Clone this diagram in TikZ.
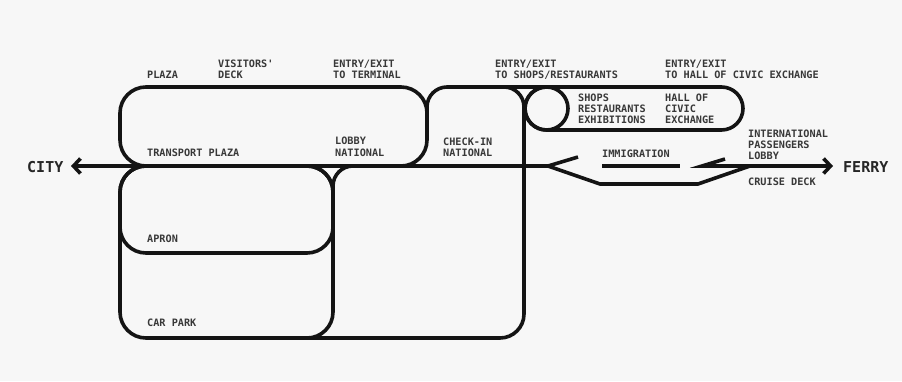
\documentclass[tikz,border=0pt]{standalone}
\usepackage{fontspec}
\newfontfamily\planfont{DejaVu Sans Mono}
\usetikzlibrary{arrows.meta}
\begin{document}
\begin{tikzpicture}[x=1pt,y=-1pt,
  >={Straight Barb[length=7pt,width=15pt]},
  wall/.style={line width=3.6pt, draw=black!92},
  lbl/.style={anchor=base west, inner sep=0pt, align=left,
    font=\planfont\bfseries\fontsize{10.2}{11.2}\selectfont, text=black!78},
  place/.style={anchor=base west, inner sep=0pt,
    font=\planfont\bfseries\fontsize{15}{15}\selectfont, text=black!85}]
\fill[black!3] (0,0) rectangle (902,381);
\useasboundingbox (0,0) rectangle (902,381);

% key points of the circulation diagram
\coordinate (cityend)  at (71,166);
\coordinate (ferryend) at (833,166);
\coordinate (split)    at (548,166);
\coordinate (rejoin)   at (702,166);
\coordinate (deckin)   at (750,166);

% upper level: transport plaza, check-in, shops and hall
\draw[wall, rounded corners=26pt] (120,87) rectangle (427,166);
\draw[wall, rounded corners=20pt] (427,130) -- (427,87) -- (524,87) -- (524,140);
\draw[wall] (500,87) -- (546,87);
\draw[wall, rounded corners=21.5pt] (525,87) rectangle (743,130);
\draw[wall] (546.5,108.5) circle[radius=21.5pt];

% lower level: apron, car park and the national block
\draw[wall, rounded corners=26pt] (120,166) rectangle (333,253);
\draw[wall, rounded corners=26pt] (120,166) rectangle (333,338);
\draw[wall, rounded corners=20pt] (333,210) -- (333,166) -- (370,166);
\draw[wall, rounded corners=24pt] (524,100) -- (524,338) -- (300,338);

% through route city -- ferry with the immigration split
\draw[wall, <-] (cityend) -- (split);
\draw[wall] (578,157) -- (split) -- (600,184) -- (698,184) -- (deckin);
\draw[wall] (602,166) -- (680,166);
\draw[wall, ->] (725,159) -- (rejoin) -- (ferryend);

% labels (a multi-line label sits on the baseline of its last line)
\node[place] (city)  at (27,172.5)  {CITY};
\node[place] (ferry) at (843,172.5) {FERRY};
\node[lbl] (plaza)    at (147,78.5)  {PLAZA};
\node[lbl] (visitors) at (218,78.7)  {VISITORS'\\DECK};
\node[lbl] (entryterm) at (333,78.7) {ENTRY/EXIT\\TO TERMINAL};
\node[lbl] (entryshop) at (495,78.7) {ENTRY/EXIT\\TO SHOPS/RESTAURANTS};
\node[lbl] (entryhall) at (665,78.7) {ENTRY/EXIT\\TO HALL OF CIVIC EXCHANGE};
\node[lbl] (shops)    at (578,123.9) {SHOPS\\RESTAURANTS\\EXHIBITIONS};
\node[lbl] (hall)     at (665,123.9) {HALL OF\\CIVIC\\EXCHANGE};
\node[lbl] (intl)     at (748,159.4) {INTERNATIONAL\\PASSENGERS\\LOBBY};
\node[lbl] (immig)    at (602,157.5) {IMMIGRATION};
\node[lbl] (cruise)   at (748,185.5) {CRUISE DECK};
\node[lbl] (transport) at (147,156)  {TRANSPORT PLAZA};
\node[lbl] (lobby)    at (335,156)   {LOBBY\\NATIONAL};
\node[lbl] (checkin)  at (443,156.5) {CHECK-IN\\NATIONAL};
\node[lbl] (apron)    at (147,242.5) {APRON};
\node[lbl] (carpark)  at (147,326.5) {CAR PARK};
\end{tikzpicture}
\end{document}
